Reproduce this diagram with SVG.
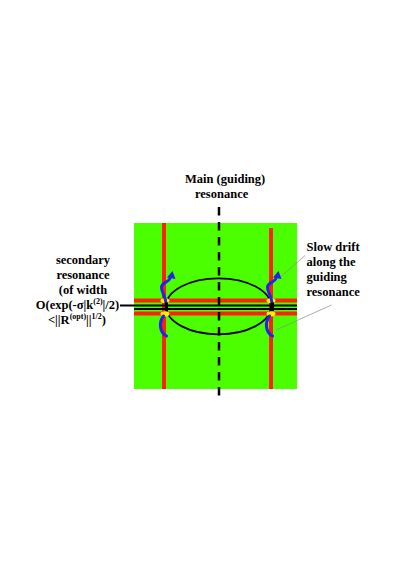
<svg xmlns="http://www.w3.org/2000/svg" xmlns:xlink="http://www.w3.org/1999/xlink" width="413" height="584" viewBox="0 0 413 584">
<style>
.t{font-family:"Liberation Serif","Times New Roman",serif;font-weight:bold;font-size:12.5px;fill:#000}
.sup{font-size:8px}
.red{stroke:#ff2200;stroke-width:4;fill:none}
.blk{stroke:#000;stroke-width:1.8;fill:none}
.blue{stroke:#2222ee;stroke-width:3;fill:none;stroke-linecap:round}
.yel{fill:#ffee00}
.gray{stroke:#8a8a8a;stroke-width:0.7;fill:none}
</style>
<defs>
<g id="crossing">
<ellipse class="yel" cx="0" cy="300.5" rx="4.5" ry="2.6"/>
<ellipse class="yel" cx="0" cy="313.8" rx="4.5" ry="2.6"/>
<path class="blue" d="M1,304 C1,296 -4,292 -3.5,287 C-3,282 3,283 5,278.5"/>
<polygon fill="#2222ee" points="7.5,271 10.5,279 2,277.5"/>
<path class="blue" d="M-1.5,316 C-6,322 -6,332 1.5,336"/>
<line x1="1.5" y1="302.5" x2="1.5" y2="311" stroke="#000" stroke-width="3"/>
</g>
</defs>
<rect width="413" height="584" fill="#fff"/>
<g id="field">
<rect x="134" y="223" width="163" height="166" fill="#4cff00"/>
<line class="red" x1="164" y1="223" x2="164" y2="389"/>
<line class="red" x1="271" y1="228" x2="271" y2="389"/>
<line class="red" x1="134" y1="300.5" x2="297" y2="300.5"/>
<line class="red" x1="134" y1="313.5" x2="297" y2="313.5"/>
</g>
<g id="connectors">
<line class="blk" x1="120" y1="305.5" x2="297" y2="305.5"/>
<line class="blk" x1="134" y1="309" x2="297" y2="309"/>
<ellipse class="blk" cx="218.5" cy="306.3" rx="52.5" ry="28" stroke-width="2"/>
<line x1="219" y1="207" x2="219" y2="398" stroke="#000" stroke-width="2.5" stroke-dasharray="8.5,6.5"/>
<line class="gray" x1="305" y1="255.5" x2="280" y2="277.5"/>
<line class="gray" x1="331.5" y1="305" x2="276" y2="330"/>
</g>
<g id="crossing-left"><use xlink:href="#crossing" transform="translate(165,0)"/></g>
<g id="crossing-right"><use xlink:href="#crossing" transform="translate(271,0)"/></g>
<g id="label-main">
<text class="t" x="185" y="183">Main (guiding)</text>
<text class="t" x="195" y="198">resonance</text>
</g>
<g id="label-secondary" text-anchor="middle">
<text class="t" x="83" y="264">secondary</text>
<text class="t" x="83" y="279">resonance</text>
<text class="t" x="83" y="294">(of width</text>
<text class="t" x="77.5" y="309">O(exp(-σ|k<tspan class="sup" dy="-5">(2)</tspan><tspan dy="5">|/2)</tspan></text>
<text class="t" x="77" y="324">&lt;||R<tspan class="sup" dy="-5">(opt)</tspan><tspan dy="5">||</tspan><tspan class="sup" dy="-5">1/2</tspan><tspan dy="5">)</tspan></text>
</g>
<g id="label-drift">
<text class="t" x="306.5" y="251">Slow drift</text>
<text class="t" x="306.5" y="266">along the</text>
<text class="t" x="306.5" y="281">guiding</text>
<text class="t" x="306.5" y="296">resonance</text>
</g>
</svg>
